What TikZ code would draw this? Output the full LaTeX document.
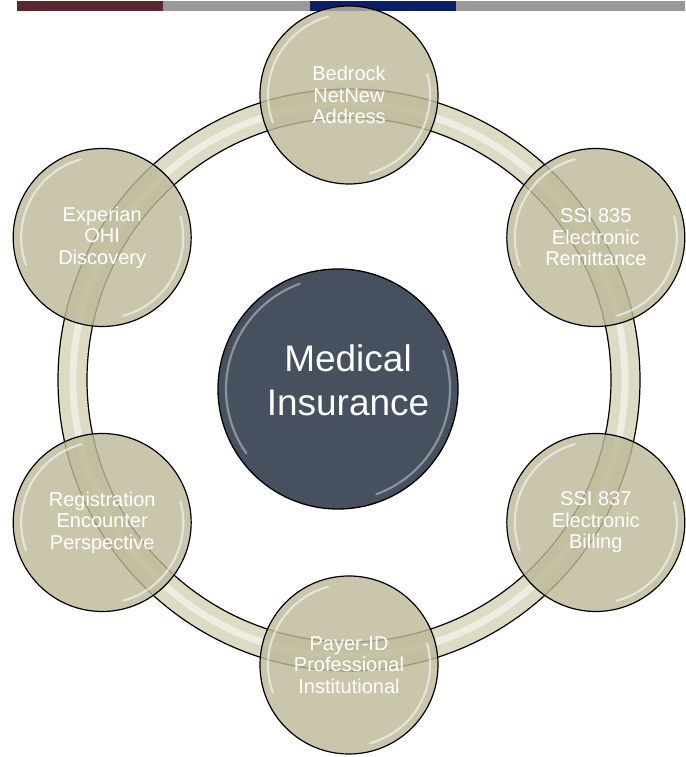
\documentclass[tikz,border=0pt]{standalone}
\usepackage{fontspec}
\setmainfont{Liberation Sans}
\usepackage{tikz}
\newcommand{\ringout}{291}
\newcommand{\ringin}{262}
\newcommand{\satdist}{285}
\newcommand{\satsize}{178pt}
\newcommand{\hubsize}{240pt}
\definecolor{barred}{RGB}{89,39,47}
\definecolor{bargray}{RGB}{153,153,153}
\definecolor{barblue}{RGB}{9,32,104}
\definecolor{satfill}{RGB}{189,185,153}
\definecolor{ringfill}{RGB}{222,219,196}
\definecolor{hubfill}{RGB}{70,80,95}

\begin{document}
\begin{tikzpicture}[x=1pt,y=1pt,
        sat/.style={circle, draw=black, line width=1.2pt, fill=satfill,
            fill opacity=0.82, draw opacity=1, text opacity=1, text=white,
            minimum size=\satsize, inner sep=0pt, align=center,
            font=\fontsize{20}{21.5}\selectfont},
        hub/.style={circle, draw=black, line width=1.3pt, fill=hubfill,
            minimum size=\hubsize, inner sep=0pt},
        hubtext/.style={text=white, align=center, inner sep=0pt,
            font=\fontsize{37}{44}\selectfont},
        gloss/.style={white, opacity=0.55, line width=2.2pt, line cap=round}]
    \useasboundingbox (0,0) rectangle (685,757);
    %\draw[help lines] (0,0) grid[step=50] (685,757);

    % bar on top
    \fill[barred] (17,746) rectangle (163,756);
    \fill[bargray] (163,746) rectangle (310,756);
    \fill[barblue] (310,746) rectangle (456,756);
    \fill[bargray] (456,746) rectangle (685,756);

    \coordinate (C) at (349,377);

    % the ring
    \fill[ringfill, even odd rule] (C) circle (\ringout) (C) circle (\ringin);
    \draw[white, opacity=0.5, line width=7pt] (C) circle (276);
    \draw[black, line width=1.2pt] (C) circle (\ringout);
    \draw[black, line width=1.2pt] (C) circle (\ringin);

    % centre
    \node[hub] (med) at (338,368) {};
    \node[hubtext] (medtxt) at ([shift={(10,9)}]med.center) {Medical\\Insurance};
    \draw[gloss, white!70!hubfill] ([shift={(110:112)}]med.center) arc[start angle=110, end angle=215, radius=112];
    \draw[gloss, white!70!hubfill] ([shift={(-70:112)}]med.center) arc[start angle=-70, end angle=20, radius=112];

    % satellites
    \foreach \ang/\name/\txt in {90/bed/{Bedrock\\NetNew\\Address},
                                 30/rem/{SSI 835\\Electronic\\Remittance},
                                 -30/bil/{SSI 837\\Electronic\\Billing},
                                 -90/pay/{Payer-ID\\Professional\\Institutional},
                                 210/reg/{Registration\\Encounter\\Perspective},
                                 150/exp/{Experian\\OHI\\Discovery}}
    {
        \node[sat] (\name) at ([shift={(\ang:\satdist)}]C) {\txt};
        \draw[gloss] ([shift={(105:81)}]\name.center) arc[start angle=105, end angle=200, radius=81];
        \draw[gloss] ([shift={(-75:81)}]\name.center) arc[start angle=-75, end angle=15, radius=81];
    }
\end{tikzpicture}
\end{document}
